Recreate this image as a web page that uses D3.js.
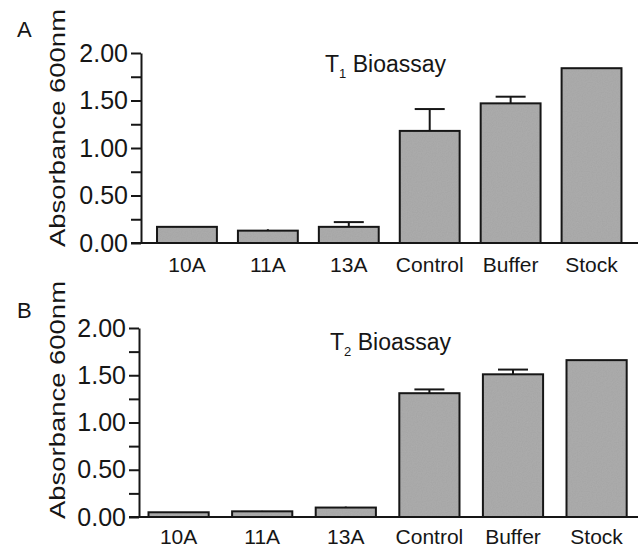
<!DOCTYPE html>
<html>
<head>
<meta charset="utf-8">
<script src="https://cdn.jsdelivr.net/npm/d3@7"></script>
<style>
  body { margin: 0; background: #fff; }
  svg { display: block; font-family: "Liberation Sans", Arial, sans-serif; }
</style>
</head>
<body>
<div id="root"></div>
<script>
// data
const categories = ["10A", "11A", "13A", "Control", "Buffer", "Stock"];
const t1Means = [0.17, 0.13, 0.17, 1.18, 1.47, 1.84];
const t1Errors = [0, 0.015, 0.05, 0.23, 0.07, 0];
const t2Means = [0.05, 0.06, 0.10, 1.31, 1.51, 1.66];
const t2Errors = [0, 0.005, 0.01, 0.04, 0.05, 0];
const yTicks = [0, 0.5, 1, 1.5, 2];
const yMinorTicks = [0.25, 0.75, 1.25, 1.75];

const w = 638;
const h = 549;
const barFill = "#a6a6a6";
const ink = "#161616";

// layout of the two stacked panels
const panels = [
    {label: "A", sub: "1", means: t1Means, errors: t1Errors,
     top: 53, bottom: 243, axisX: 141, xRange: [146.5, 632], pad: 0.26,
     titleX: 325, titleY: 72, labelY: 37, yTitleY: 128, xPad: 14},
    {label: "B", sub: "2", means: t2Means, errors: t2Errors,
     top: 328, bottom: 517, axisX: 139, xRange: [136.8, 638.4], pad: 0.28,
     titleX: 330, titleY: 350, labelY: 318, yTitleY: 400, xPad: 12}
];

const svg = d3.select("#root")
    .append("svg")
    .attr("width", w)
    .attr("height", h);

// speckled grey like the scanned original
const filter = svg.append("defs").append("filter")
    .attr("id", "speckle")
    .attr("x", 0).attr("y", 0).attr("width", 1).attr("height", 1);
filter.append("feTurbulence")
    .attr("type", "fractalNoise")
    .attr("baseFrequency", 0.8)
    .attr("numOctaves", 1)
    .attr("result", "noise");
filter.append("feColorMatrix")
    .attr("in", "noise")
    .attr("type", "matrix")
    .attr("values", "0 0 0 0 0.5  0 0 0 0 0.5  0 0 0 0 0.5  0.25 0.25 0.25 0 -0.25")
    .attr("result", "dots");
filter.append("feComposite")
    .attr("in", "dots")
    .attr("in2", "SourceGraphic")
    .attr("operator", "atop");

panels.forEach(p => {
    const g = svg.append("g");

    const yScale = d3.scaleLinear()
        .domain([0, 2])
        .range([p.bottom, p.top]);

    const xScale = d3.scaleBand()
        .domain(categories)
        .range(p.xRange)
        .paddingInner(p.pad)
        .paddingOuter(p.pad / 2);

    // bars: speckled fill, then outline
    const bars = g.selectAll("g.bar")
        .data(categories)
        .enter()
        .append("g")
        .attr("class", "bar");
    bars.append("rect")
        .attr("x", d => xScale(d))
        .attr("y", (d, i) => yScale(p.means[i]))
        .attr("width", xScale.bandwidth())
        .attr("height", (d, i) => yScale(0) - yScale(p.means[i]))
        .attr("fill", barFill)
        .attr("filter", "url(#speckle)");
    bars.append("rect")
        .attr("x", d => xScale(d))
        .attr("y", (d, i) => yScale(p.means[i]))
        .attr("width", xScale.bandwidth())
        .attr("height", (d, i) => yScale(0) - yScale(p.means[i]))
        .attr("fill", "none")
        .attr("stroke", ink)
        .attr("stroke-width", 2);

    // error bars (upper only)
    const errData = categories
        .map((c, i) => ({c: c, m: p.means[i], e: p.errors[i]}))
        .filter(d => d.e > 0);
    const cap = 15;
    g.selectAll("line.err")
        .data(errData)
        .enter()
        .append("line")
        .attr("class", "err")
        .attr("x1", d => xScale(d.c) + xScale.bandwidth() / 2)
        .attr("x2", d => xScale(d.c) + xScale.bandwidth() / 2)
        .attr("y1", d => yScale(d.m))
        .attr("y2", d => yScale(d.m + d.e))
        .attr("stroke", ink)
        .attr("stroke-width", 2);
    g.selectAll("line.cap")
        .data(errData.filter(d => d.e > 0.02))
        .enter()
        .append("line")
        .attr("class", "cap")
        .attr("x1", d => xScale(d.c) + xScale.bandwidth() / 2 - cap)
        .attr("x2", d => xScale(d.c) + xScale.bandwidth() / 2 + cap)
        .attr("y1", d => yScale(d.m + d.e))
        .attr("y2", d => yScale(d.m + d.e))
        .attr("stroke", ink)
        .attr("stroke-width", 2);

    // y-axis, major ticks
    const yAxis = d3.axisLeft(yScale)
        .tickValues(yTicks)
        .tickSize(10)
        .tickSizeOuter(0)
        .tickPadding(3)
        .tickFormat(d3.format(".2f"));
    const ya = g.append("g")
        .attr("transform", "translate(" + p.axisX + ",0)")
        .call(yAxis);
    ya.attr("font-family", null).attr("font-size", null);
    ya.selectAll("text").style("font-size", "25px").attr("fill", ink);
    ya.selectAll("line, path").attr("stroke", ink).attr("stroke-width", 2);

    // y-axis, minor ticks
    const ym = g.append("g")
        .attr("transform", "translate(" + p.axisX + ",0)")
        .call(d3.axisLeft(yScale).tickValues(yMinorTicks).tickSize(10).tickFormat(""));
    ym.select(".domain").remove();
    ym.selectAll("line").attr("stroke", ink).attr("stroke-width", 2);

    // x baseline runs to the right edge
    g.append("line")
        .attr("x1", p.axisX - 10)
        .attr("x2", w)
        .attr("y1", yScale(0))
        .attr("y2", yScale(0))
        .attr("stroke", ink)
        .attr("stroke-width", 2);

    // x-axis labels
    const xa = g.append("g")
        .attr("transform", "translate(0," + p.bottom + ")")
        .call(d3.axisBottom(xScale).tickSize(0).tickPadding(p.xPad));
    xa.select(".domain").remove();
    xa.attr("font-family", null).attr("font-size", null);
    xa.selectAll("text").style("font-size", "21px").attr("fill", ink);

    // y-axis title
    g.append("text")
        .attr("transform", "translate(65," + p.yTitleY + ") rotate(-90)")
        .attr("text-anchor", "middle")
        .attr("textLength", 238)
        .attr("lengthAdjust", "spacingAndGlyphs")
        .style("font-size", "22px")
        .attr("fill", ink)
        .text("Absorbance 600nm");

    // panel letter
    g.append("text")
        .attr("x", 17)
        .attr("y", p.labelY)
        .style("font-size", "22px")
        .attr("fill", ink)
        .text(p.label);

    // panel title with subscript
    const title = g.append("text")
        .attr("x", p.titleX)
        .attr("y", p.titleY)
        .style("font-size", "23px")
        .attr("fill", ink);
    title.append("tspan").text("T");
    title.append("tspan").attr("dy", 6).style("font-size", "13px").text(p.sub);
    title.append("tspan").attr("dy", -6).text(" Bioassay");
});
</script>
</body>
</html>
